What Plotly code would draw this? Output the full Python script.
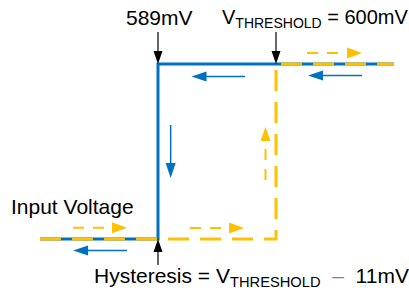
import plotly.graph_objects as go

# ---- data (mV on x, output level on y) ----
V_LOW = 589          # falling threshold
V_HIGH = 600         # rising threshold
V_MIN = 578          # left end of sweep
V_MAX = 611          # right end of sweep
rise_x = [V_MIN, V_HIGH, V_HIGH, V_MAX]
rise_y = [0, 0, 1, 1]
fall_x = [V_MAX, V_LOW, V_LOW, V_MIN]
fall_y = [1, 1, 0, 0]

BLUE = "#0070C0"
GOLD = "#FFC000"
W, H = 409, 291
XR = [574.271, 612.398]
YR = [-0.2971, 1.3657]

def px(x): return (x - XR[0]) / (XR[1] - XR[0]) * W
def py(y): return (YR[1] - y) / (YR[1] - YR[0]) * H
def dx(p): return XR[0] + p / W * (XR[1] - XR[0])
def dy(p): return YR[1] - p / H * (YR[1] - YR[0])

shapes = []

def arrow(x0, y0, x1, y1, color, width, dash, hl, hw):
    a = (px(x0), py(y0)); b = (px(x1), py(y1))
    L = ((b[0]-a[0])**2 + (b[1]-a[1])**2) ** 0.5
    ux, uy = (b[0]-a[0]) / L, (b[1]-a[1]) / L
    nx, ny = -uy, ux
    base = (b[0] - ux*hl, b[1] - uy*hl)
    shapes.append(dict(type="line", xref="x", yref="y",
                       x0=x0, y0=y0, x1=dx(base[0] + ux*1), y1=dy(base[1] + uy*1),
                       line=dict(color=color, width=width, dash=dash)))
    pts = [b, (base[0]+nx*hw/2, base[1]+ny*hw/2), (base[0]-nx*hw/2, base[1]-ny*hw/2)]
    path = "M " + " L ".join(f"{dx(p[0])},{dy(p[1])}" for p in pts) + " Z"
    shapes.append(dict(type="path", xref="x", yref="y", path=path,
                       fillcolor=color, line=dict(width=0)))

# blue (falling) direction arrows
arrow(597.11, 0.9286, 592.12, 0.9286, BLUE, 1.5, "solid", 15, 10)
arrow(608.02, 0.9343, 602.98, 0.9343, BLUE, 1.5, "solid", 15, 10)
arrow(590.18, 0.6514, 590.18, 0.3486, BLUE, 1.5, "solid", 15, 10)
arrow(586.11, -0.0657, 581.08, -0.0657, BLUE, 1.5, "solid", 15, 10)
# gold (rising) direction arrows
arrow(581.08, 0.0646, 586.11, 0.0646, GOLD, 2, "11px,9px", 15, 11)
arrow(591.98, 0.0629, 597.02, 0.0629, GOLD, 2, "11px,9px", 15, 11)
arrow(599.02, 0.3371, 599.02, 0.6400, GOLD, 2, "11px,9px", 14, 10)
arrow(602.89, 1.0629, 608.02, 1.0629, GOLD, 2, "11px,9px", 15, 11)
# black pointer arrows
arrow(V_LOW, 1.1829, V_LOW, 1.0, "black", 1.2, "solid", 13, 9)
arrow(V_HIGH, 1.1829, V_HIGH, 1.0, "black", 1.2, "solid", 13, 9)
arrow(V_LOW, -0.1486, V_LOW, 0.0, "black", 1.2, "solid", 13, 9)

fig = go.Figure()
fig.add_trace(go.Scatter(x=fall_x, y=fall_y, mode="lines",
                         line=dict(color=BLUE, width=3), hoverinfo="skip"))
fig.add_trace(go.Scatter(x=rise_x, y=rise_y, mode="lines",
                         line=dict(color=GOLD, width=3, dash="21px,11px"), hoverinfo="skip"))

FAM = "Arial, Liberation Sans, sans-serif"
NB = "\u00a0"
annos = [
    dict(text=f"{V_LOW}mV", x=159.5 / W, y=1 - 17 / H, xanchor="center", size=21),
    dict(text=f"V<sub>THRESHOLD</sub> = {V_HIGH}mV", x=220 / W, y=1 - 19 / H, xanchor="left", size=20),
    dict(text="Input Voltage", x=9 / W, y=1 - 206 / H, xanchor="left", size=21),
    dict(text=f"Hysteresis = V<sub>THRESHOLD</sub>{NB}{NB}<span style='color:#808080'>–</span>{NB}{NB}{V_HIGH - V_LOW}mV",
         x=92 / W, y=1 - 277 / H, xanchor="left", size=21),
]
for a in annos:
    size = a.pop("size")
    fig.add_annotation(xref="paper", yref="paper", yanchor="middle",
                       showarrow=False, font=dict(family=FAM, size=size, color="black"), **a)

fig.update_layout(width=W, height=H, margin=dict(l=0, r=0, t=0, b=0),
                  paper_bgcolor="white", plot_bgcolor="white",
                  showlegend=False, shapes=shapes,
                  xaxis=dict(range=XR, visible=False, fixedrange=True),
                  yaxis=dict(range=YR, visible=False, fixedrange=True))
fig.write_html("out.html", config={"displayModeBar": False},
               post_script="document.body.style.margin='0';document.body.style.overflow='hidden';")
